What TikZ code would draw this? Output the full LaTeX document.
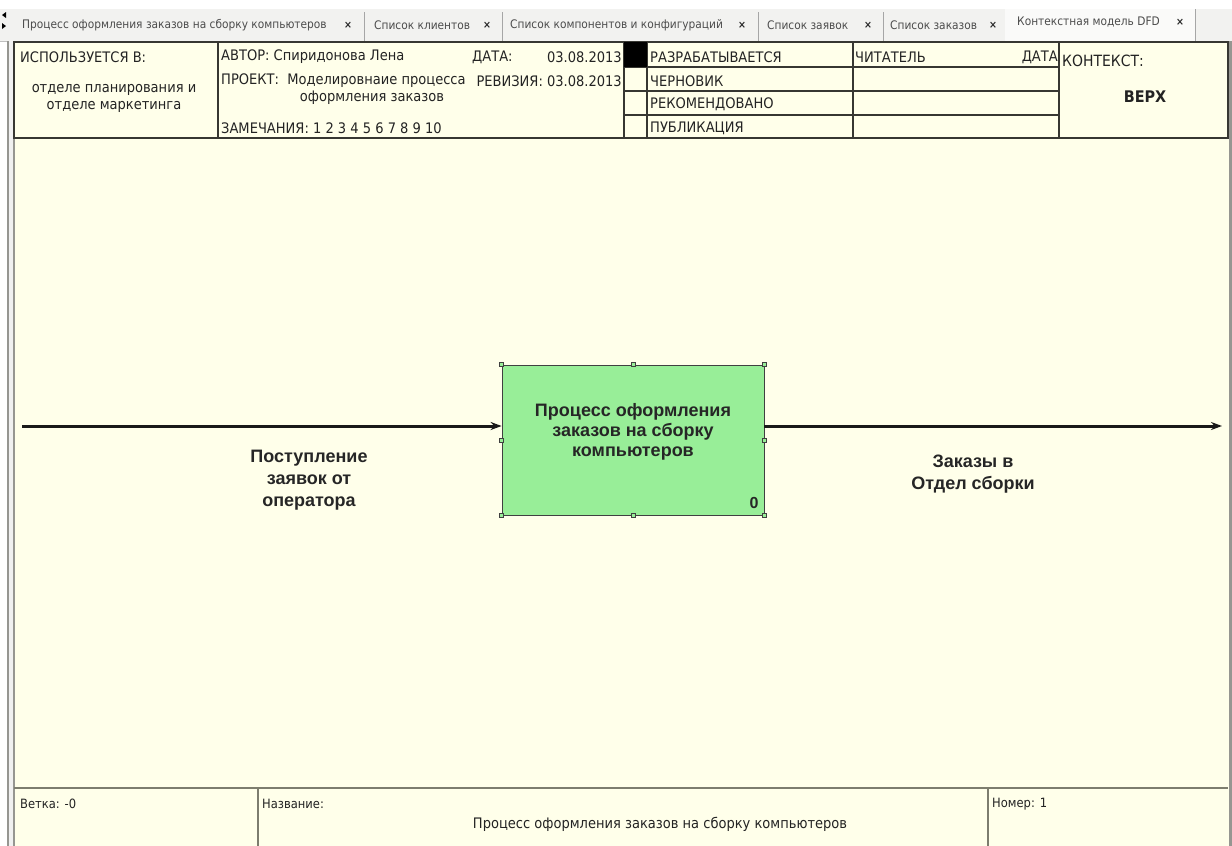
\documentclass[tikz,border=0pt]{standalone}
\usepackage{fontspec}
\setmainfont[FakeStretch=0.9]{DejaVu Sans}
\newfontfamily\arialf{Liberation Sans}
\usetikzlibrary{arrows.meta}

\definecolor{cream}{RGB}{255,255,234}
\definecolor{boxgreen}{RGB}{152,238,152}
\definecolor{tabbg}{RGB}{242,242,240}
\definecolor{rulec}{RGB}{55,55,50}
\definecolor{frameg}{RGB}{150,150,145}
\definecolor{footrule}{RGB}{125,125,110}
\definecolor{txt}{RGB}{35,35,35}

\tikzset{
  tabtxt/.style={font=\fontsize{11.8}{13}\selectfont, text=black!70, inner sep=0pt, anchor=west},
  tabx/.style={font=\bfseries\fontsize{10.5}{12}\selectfont, text=black!85, inner sep=0pt},
  tabsep/.style={draw=black!35, line width=0.8pt},
  hdr/.style={font=\fontsize{14.5}{16}\selectfont, text=txt, inner sep=0pt, anchor=west},
  hdrc/.style={font=\fontsize{14.5}{17}\selectfont, text=txt, inner sep=0pt, align=center},
  hdrr/.style={font=\fontsize{14.5}{16}\selectfont, text=txt, inner sep=0pt, anchor=east},
  foot/.style={font=\fontsize{12.8}{15}\selectfont, text=txt, inner sep=0pt, anchor=west},
  grid/.style={draw=rulec, line width=1.1pt},
  footline/.style={draw=footrule, line width=1.4pt},
  procbox/.style={draw=black!75, fill=boxgreen, line width=0.8pt, inner sep=0pt},
  handle/.style={draw=black!75, fill=boxgreen, line width=0.6pt, minimum size=4pt, inner sep=0pt},
  boxtxt/.style={font=\arialf\bfseries\fontsize{18}{20}\selectfont, text=black!85, align=center, inner sep=0pt},
  flowlbl/.style={font=\arialf\bfseries\fontsize{18}{22}\selectfont, text=black!85, align=center, inner sep=0pt},
  flow/.style={draw=black!90, line width=3pt, -{Stealth[length=11pt,width=8pt]}}
}

\begin{document}
\begin{tikzpicture}[x=1pt,y=-1pt]
\useasboundingbox (0,0) rectangle (1232,846);
\fill[white] (0,0) rectangle (1232,846);

% tab strip
\fill[tabbg] (0,9) rectangle (1232,41);
\fill[white!60!tabbg] (1005,9) rectangle (1195,41);
\draw[black!25, line width=0.8pt] (0,41) -- (1005,41);
\fill[black] (6,12) -- (2,15) -- (6,18) -- cycle;
\fill[black] (2,23) -- (6,26) -- (2,29) -- cycle;

\node[tabtxt] (t1) at (22,25) {Процесс оформления заказов на сборку компьютеров};
\node[tabx] (x1) at (348,25) {×};
\draw[tabsep] (364,12) -- (364,41);
\node[tabtxt] (t2) at (374,25) {Список клиентов};
\node[tabx] (x2) at (487,25) {×};
\draw[tabsep] (502,12) -- (502,41);
\node[tabtxt] (t3) at (510,25) {Список компонентов и конфигураций};
\node[tabx] (x3) at (742,25) {×};
\draw[tabsep] (758,12) -- (758,41);
\node[tabtxt] (t4) at (767,25) {Список заявок};
\node[tabx] (x4) at (868,25) {×};
\draw[tabsep] (883,12) -- (883,41);
\node[tabtxt] (t5) at (890,25) {Список заказов};
\node[tabx] (x5) at (993,25) {×};
\node[tabtxt] (t6) at (1017,22) {Контекстная модель DFD};
\node[tabx] (x6) at (1180,22) {×};
\draw[tabsep] (1195,9) -- (1195,41);

% drawing sheet
\fill[cream] (9,41) rectangle (1229,846);
\fill[black!6] (9,41) rectangle (13,846);
\draw[frameg, line width=2pt] (8,41) -- (8,846);
\draw[frameg, line width=1.6pt] (14,41) -- (14,846);
\draw[frameg, line width=3pt] (1230,41) -- (1230,846);

% title block
\draw[grid] (14,42) rectangle (1228,138);
\draw[grid] (218,42) -- (218,138);
\draw[grid] (624,42) -- (624,138);
\draw[grid] (647,42) -- (647,138);
\draw[grid] (853,42) -- (853,138);
\draw[grid] (1059,42) -- (1059,138);
\draw[grid] (624,67) -- (1059,67);
\draw[grid] (624,91) -- (1059,91);
\draw[grid] (624,115) -- (1059,115);
\fill[black] (624,42) rectangle (647,67);

\node[hdr] (used) at (20,57) {ИСПОЛЬЗУЕТСЯ В:};
\node[hdrc] (dept) at (114,98) {отделе планирования и\\отделе маркетинга};
\node[hdr] (author) at (221,57) {АВТОР: Спиридонова Лена};
\node[hdr] (datel) at (472,57) {ДАТА:};
\node[hdrr] (date) at (622,57) {03.08.2013};
\node[hdr] (proj) at (221,81) {ПРОЕКТ:\ \ Моделировнаие процесса};
\node[hdrr] (rev) at (622,81) {РЕВИЗИЯ: 03.08.2013};
\node[hdrc] (proj2) at (372,98) {оформления заказов};
\node[hdr] (notes) at (221,128) {ЗАМЕЧАНИЯ:\ 1 2 3 4 5 6 7 8 9 10};
\node[hdr] (s1) at (650,57) {РАЗРАБАТЫВАЕТСЯ};
\node[hdr] (s2) at (650,81) {ЧЕРНОВИК};
\node[hdr] (s3) at (650,104) {РЕКОМЕНДОВАНО};
\node[hdr] (s4) at (650,128) {ПУБЛИКАЦИЯ};
\node[hdr] (reader) at (855,57) {ЧИТАТЕЛЬ};
\node[hdrr] (rdate) at (1058,57) {ДАТА};
\node[hdr, font=\fontsize{15.5}{17}\selectfont] (ctx) at (1062,61) {КОНТЕКСТ:};
\node[font=\bfseries\fontsize{16}{18}\selectfont, text=txt, inner sep=0pt] (top) at (1145,97) {ВЕРХ};

% process box
\node[procbox, minimum width=262pt, minimum height=150pt] (box) at (633,440) {};
\node[boxtxt] (boxlbl) at (633,432) {Процесс оформления\\заказов на сборку\\компьютеров};
\node[font=\arialf\bfseries\fontsize{16}{18}\selectfont, text=black!85, inner sep=0pt] (num) at (754,503) {0};
\foreach \a in {north west,north,north east,west,east,south west,south,south east}
  \node[handle] at (box.\a) {};

% data flows
\coordinate (src) at (22,426);
\coordinate (dst) at (1222,426);
\draw[flow] (src) -- (src -| box.west);
\draw[flow] (dst -| box.east) -- (dst);
\node[flowlbl] (inlbl) at (309,480) {Поступление\\заявок от\\оператора};
\node[flowlbl] (outlbl) at (973,474) {Заказы в\\Отдел сборки};

% footer
\draw[footline] (14,788) -- (1228,788);
\draw[footline] (258,788) -- (258,846);
\draw[footline] (988,788) -- (988,846);
\node[foot] (branch) at (20,804) {Ветка: -0};
\node[foot] (name) at (262,804) {Название:};
\node[foot] (num1) at (992,804) {Номер: 1};
\node[foot, anchor=center, font=\fontsize{14.5}{16}\selectfont] (title) at (660,824) {Процесс оформления заказов на сборку компьютеров};
\end{tikzpicture}
\end{document}
